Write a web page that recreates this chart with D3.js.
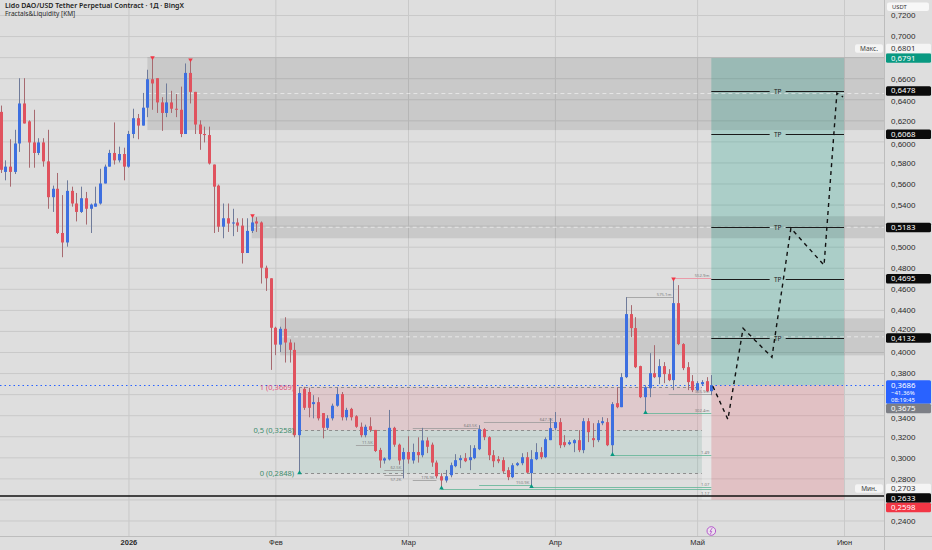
<!DOCTYPE html>
<html lang="ru">

<head>
  <meta charset="UTF-8">
  <title>LDO/USDT 1D</title>
  <style>
    body { margin: 0; background: #dedede; }
    svg { display: block; font-family: "Noto Sans", "DejaVu Sans", sans-serif; }
  </style>
</head>

<body>
  <script src="https://cdnjs.cloudflare.com/ajax/libs/d3/7.8.5/d3.min.js"></script>
  <script>
    // daily candles from 2025-12-05
    const firstDay = '2025-12-05'
    const opens = [
      0.628, 0.571, 0.576, 0.571, 0.598, 0.636, 0.619, 0.599, 0.589, 0.599,
      0.581, 0.547, 0.555, 0.513, 0.504, 0.553, 0.541, 0.533, 0.546, 0.536,
      0.538, 0.541, 0.560, 0.576, 0.589, 0.582, 0.588, 0.576, 0.607, 0.622,
      0.615, 0.632, 0.659, 0.660, 0.637, 0.627, 0.637, 0.631, 0.630, 0.607,
      0.665, 0.647, 0.616, 0.607, 0.606, 0.578, 0.558, 0.519, 0.527, 0.522,
      0.523, 0.520, 0.494, 0.515, 0.524, 0.523, 0.480, 0.470, 0.423, 0.407,
      0.422, 0.409, 0.402, 0.321, 0.365, 0.362, 0.3505, 0.3524, 0.342, 0.328,
      0.337, 0.349, 0.360, 0.338, 0.346, 0.339, 0.329, 0.321, 0.3295, 0.326,
      0.307, 0.297, 0.298, 0.328, 0.312, 0.298, 0.305, 0.297, 0.305, 0.302,
      0.316, 0.312, 0.295, 0.282, 0.278, 0.283, 0.2916, 0.2973, 0.2992, 0.2973,
      0.2992, 0.3077, 0.3267, 0.3191, 0.302, 0.2982, 0.2973, 0.2878, 0.2811, 0.2925,
      0.2944, 0.3001, 0.285, 0.2982, 0.3049, 0.3001, 0.3163, 0.3277, 0.3334, 0.3144,
      0.3125, 0.3134, 0.3163, 0.3068, 0.3343, 0.3182, 0.3163, 0.3324, 0.3334, 0.3115,
      0.3514, 0.3476, 0.3761, 0.436, 0.4227, 0.3866, 0.3571, 0.3656, 0.3799, 0.3761,
      0.3866, 0.379, 0.3733, 0.4464, 0.4075, 0.3856, 0.3723, 0.3638, 0.3694, 0.3723,
      0.3628
    ]
    const highs = [
      0.634, 0.582, 0.602, 0.611, 0.660, 0.660, 0.620, 0.630, 0.603, 0.603,
      0.611, 0.558, 0.570, 0.549, 0.563, 0.557, 0.551, 0.557, 0.552, 0.541,
      0.557, 0.574, 0.578, 0.592, 0.618, 0.595, 0.594, 0.610, 0.631, 0.626,
      0.646, 0.668, 0.6801, 0.660, 0.642, 0.655, 0.648, 0.645, 0.652, 0.674,
      0.678, 0.647, 0.620, 0.614, 0.614, 0.578, 0.559, 0.541, 0.541, 0.536,
      0.527, 0.527, 0.527, 0.530, 0.528, 0.524, 0.482, 0.470, 0.424, 0.424,
      0.433, 0.412, 0.409, 0.366, 0.3669, 0.366, 0.359, 0.357, 0.342, 0.340,
      0.351, 0.3666, 0.362, 0.347, 0.347, 0.340, 0.333, 0.331, 0.338, 0.326,
      0.309, 0.300, 0.345, 0.329, 0.313, 0.309, 0.320, 0.313, 0.319, 0.328,
      0.319, 0.314, 0.297, 0.285, 0.288, 0.295, 0.303, 0.302, 0.304, 0.3115,
      0.3115, 0.3305, 0.3277, 0.320, 0.3068, 0.3011, 0.3001, 0.2906, 0.2944, 0.2954,
      0.3039, 0.3049, 0.3068, 0.3134, 0.3096, 0.319, 0.3372, 0.343, 0.3372, 0.321,
      0.3163, 0.3172, 0.3258, 0.3372, 0.3372, 0.3324, 0.3353, 0.3381, 0.3372, 0.3524,
      0.3666, 0.3799, 0.4521, 0.4445, 0.4331, 0.387, 0.3685, 0.3989, 0.4065, 0.3932,
      0.3904, 0.3837, 0.470, 0.4635, 0.4084, 0.3904, 0.3781, 0.3723, 0.3733, 0.3761,
      0.3781
    ]
    const lows = [
      0.570, 0.563, 0.557, 0.569, 0.590, 0.617, 0.575, 0.575, 0.587, 0.576,
      0.536, 0.533, 0.512, 0.490, 0.500, 0.538, 0.524, 0.532, 0.521, 0.513,
      0.538, 0.540, 0.560, 0.576, 0.578, 0.580, 0.563, 0.575, 0.603, 0.602,
      0.615, 0.623, 0.630, 0.627, 0.610, 0.623, 0.627, 0.623, 0.604, 0.607,
      0.636, 0.607, 0.592, 0.599, 0.578, 0.513, 0.514, 0.508, 0.514, 0.510,
      0.514, 0.484, 0.494, 0.513, 0.514, 0.465, 0.458, 0.383, 0.397, 0.400,
      0.390, 0.390, 0.319, 0.2848, 0.345, 0.338, 0.337, 0.335, 0.318, 0.326,
      0.335, 0.348, 0.335, 0.335, 0.335, 0.328, 0.319, 0.319, 0.324, 0.305,
      0.290, 0.294, 0.297, 0.310, 0.293, 0.280, 0.294, 0.294, 0.295, 0.300,
      0.304, 0.291, 0.280, 0.2703, 0.276, 0.281, 0.2906, 0.2897, 0.2954, 0.2878,
      0.2982, 0.3068, 0.3163, 0.2973, 0.2906, 0.2944, 0.285, 0.2783, 0.2802, 0.2916,
      0.2925, 0.285, 0.2716, 0.2973, 0.2982, 0.2992, 0.3163, 0.3258, 0.3087, 0.3096,
      0.3115, 0.3049, 0.3049, 0.3039, 0.3144, 0.3096, 0.3144, 0.3305, 0.3106, 0.302,
      0.3466, 0.3476, 0.3752, 0.4141, 0.3847, 0.3562, 0.3419, 0.3571, 0.3752, 0.3695,
      0.3704, 0.3723, 0.3638, 0.4065, 0.3828, 0.3638, 0.3619, 0.3628, 0.3685, 0.3619,
      0.359
    ]
    const closes = [
      0.573, 0.576, 0.571, 0.598, 0.636, 0.617, 0.599, 0.589, 0.599, 0.581,
      0.547, 0.555, 0.513, 0.504, 0.553, 0.541, 0.533, 0.546, 0.536, 0.540,
      0.541, 0.560, 0.576, 0.589, 0.582, 0.588, 0.576, 0.607, 0.622, 0.615,
      0.632, 0.659, 0.655, 0.637, 0.627, 0.637, 0.631, 0.630, 0.607, 0.665,
      0.647, 0.616, 0.607, 0.606, 0.579, 0.557, 0.519, 0.527, 0.522, 0.523,
      0.520, 0.494, 0.515, 0.523, 0.522, 0.480, 0.470, 0.423, 0.407, 0.422,
      0.409, 0.402, 0.321, 0.361, 0.347, 0.347, 0.3524, 0.337, 0.328, 0.337,
      0.349, 0.360, 0.338, 0.345, 0.338, 0.329, 0.321, 0.329, 0.326, 0.306,
      0.297, 0.299, 0.328, 0.312, 0.297, 0.305, 0.298, 0.305, 0.302, 0.316,
      0.310, 0.295, 0.282, 0.278, 0.282, 0.2925, 0.2973, 0.2992, 0.2963, 0.3001,
      0.3087, 0.3267, 0.3191, 0.302, 0.2963, 0.2963, 0.2868, 0.2811, 0.2925, 0.2944,
      0.3001, 0.2855, 0.2982, 0.3049, 0.3001, 0.3172, 0.3277, 0.3334, 0.3115, 0.3115,
      0.3144, 0.3163, 0.3068, 0.3343, 0.3239, 0.3163, 0.3324, 0.3343, 0.3115, 0.3505,
      0.3476, 0.3761, 0.436, 0.4227, 0.3856, 0.3571, 0.3666, 0.3799, 0.3761, 0.3866,
      0.379, 0.3733, 0.4464, 0.4075, 0.3847, 0.3714, 0.3638, 0.3704, 0.3714, 0.3628,
      0.3686
    ]

    // axis ticks
    const priceTicks = d3.range(24, 73, 2).map(v => v / 100)
    const monthTicks = ['2026-01-01', '2026-02-01', '2026-03-01', '2026-04-01', '2026-05-01', '2026-06-01']
    const monthLabels = ['2026', 'Фев', 'Мар', 'Апр', 'Май', 'Июн']

    // levels
    const lastPrice = 0.3686
    const bidPrice = 0.3675
    const maxPrice = 0.6801
    const minPrice = 0.2703
    const targetPrice = 0.6791
    const stopPrice = 0.2598
    const supportPrice = 0.2633
    const tpLevels = [0.6478, 0.6068, 0.5183, 0.4695, 0.4132]
    const fibLevels = [1, 0.5, 0]
    const fibPrices = [0.3669, 0.3258, 0.2848]
    const fibRange = ['2026-02-06', '2026-05-02']
    const tradeRange = ['2026-05-04', '2026-06-01']

    // supply zones: start date, bottom, top
    const zoneStarts = ['2026-01-05', '2026-01-27', '2026-02-02']
    const zoneBottoms = [0.6107, 0.5080, 0.3968]
    const zoneTops = [0.6801, 0.5289, 0.4320]

    // fractals
    const fractalHighDays = ['2026-01-06', '2026-01-14', '2026-01-27', '2026-04-26']
    const fractalLowDays = ['2026-02-06', '2026-03-08', '2026-03-27', '2026-04-13', '2026-04-20']

    // liquidity levels
    const liqFrom = ['2026-04-26', '2026-04-16', '2026-04-25', '2026-04-20', '2026-04-13', '2026-03-27', '2026-03-08',
      '2026-03-02', '2026-03-17', '2026-02-18', '2026-02-24', '2026-02-24', '2026-03-02', '2026-03-16']
    const liqTo = ['2026-05-04', '2026-04-26', '2026-05-04', '2026-05-04', '2026-05-04', '2026-05-04', '2026-05-04',
      '2026-03-16', '2026-04-01', '2026-02-22', '2026-02-28', '2026-02-28', '2026-03-07', '2026-03-27']
    const liqPrices = [0.4700, 0.4521, 0.3597, 0.3419, 0.3020, 0.2716, 0.2703,
      0.3277, 0.3332, 0.3115, 0.2875, 0.2828, 0.2780, 0.2733]
    const liqKinds = ['high', 'mid', 'mid', 'low', 'low', 'low', 'low',
      'mid', 'mid', 'mid', 'mid', 'mid', 'mid', 'low']
    const liqLabels = ['552.9m', '575.1m', '365.9m', '302.4m', '1.49', '1.07', '1.17',
      '643.5K', '647.7K', '11.5K', '62.5K', '57.2K', '176.9K', '150.9K']

    // projected path
    const pathTimes = ['2026-05-04T08:00Z', '2026-05-07T12:00Z', '2026-05-10T17:00Z', '2026-05-16T19:00Z',
      '2026-05-20T19:00Z', '2026-05-27T19:00Z', '2026-05-30T12:00Z', '2026-05-31T19:00Z']
    const pathPrices = [0.3674, 0.3360, 0.4225, 0.3950, 0.5175, 0.4824, 0.6459, 0.6421]

    const W = 932, H = 550
    const plotW = 884, plotH = 536
    const upColor = '#3d6fe0', downColor = '#e0525e'
    const upWick = '#6f7b9a', downWick = '#a76a70'

    const parseDay = d3.utcParse('%Y-%m-%d')
    const fmt = d3.formatLocale({ decimal: ',', thousands: ' ', grouping: [3], currency: ['', ''] }).format('.4f')

    const start = parseDay(firstDay)
    const candles = opens.map((o, i) => ({
      date: d3.utcDay.offset(start, i), o: o, h: highs[i], l: lows[i], c: closes[i]
    }))
    const byDay = new Map(candles.map(d => [+d.date, d]))

    let svg = d3.select('body').append('svg')
      .attr('width', W)
      .attr('height', H)

    svg.append('rect').attr('width', W).attr('height', H).attr('fill', '#dedede')

    let x = d3.scaleUtc()
      .domain([parseDay('2025-12-05'), parseDay('2026-06-01')])
      .range([0.5, 844])
    let y = d3.scaleLinear()
      .domain([0.24, 0.72])
      .range([520.5, 15])

    svg.append('clipPath').attr('id', 'plotClip')
      .append('rect').attr('width', plotW).attr('height', plotH)
    let plot = svg.append('g').attr('clip-path', 'url(#plotClip)')

    // grid
    plot.append('g')
      .attr('class', 'grid-y')
      .call(d3.axisLeft(y).tickValues(priceTicks).tickSize(-plotW).tickFormat(''))
      .call(g => g.select('.domain').remove())
      .call(g => g.selectAll('line').attr('stroke', '#c9c9c9'))
    plot.append('g')
      .attr('class', 'grid-x')
      .attr('transform', `translate(0,${plotH})`)
      .call(d3.axisBottom(x).tickValues(monthTicks.map(parseDay)).tickSize(-plotH).tickFormat(''))
      .call(g => g.select('.domain').remove())
      .call(g => g.selectAll('line').attr('stroke', '#c9c9c9'))

    // fib zone
    const fx0 = x(parseDay(fibRange[0])), fx1 = x(parseDay(fibRange[1]))
    plot.append('rect')
      .attr('x', fx0).attr('width', fx1 - fx0)
      .attr('y', y(fibPrices[0])).attr('height', y(fibPrices[1]) - y(fibPrices[0]))
      .attr('fill', 'rgba(235,80,100,0.14)')
    plot.append('rect')
      .attr('x', fx0).attr('width', fx1 - fx0)
      .attr('y', y(fibPrices[1])).attr('height', y(fibPrices[2]) - y(fibPrices[1]))
      .attr('fill', 'rgba(8,140,110,0.09)')
    plot.selectAll('.fib-line')
      .data(fibPrices)
      .enter()
      .append('line')
      .attr('class', 'fib-line')
      .attr('x1', fx0).attr('x2', fx1)
      .attr('y1', d => Math.round(y(d)) + 0.5).attr('y2', d => Math.round(y(d)) + 0.5)
      .attr('stroke', '#8d8d8d')
      .attr('stroke-dasharray', '3,3')

    // trade boxes
    const tx0 = x(parseDay(tradeRange[0])), tx1 = x(parseDay(tradeRange[1]))
    plot.append('rect')
      .attr('x', tx0).attr('width', tx1 - tx0)
      .attr('y', y(targetPrice)).attr('height', y(lastPrice) - y(targetPrice))
      .attr('fill', 'rgba(8,153,129,0.24)')
    plot.append('rect')
      .attr('x', tx0).attr('width', tx1 - tx0)
      .attr('y', y(lastPrice)).attr('height', y(stopPrice) - y(lastPrice))
      .attr('fill', 'rgba(242,54,69,0.17)')
    plot.append('rect')
      .attr('x', fx1).attr('width', tx0 - fx1)
      .attr('y', y(lastPrice)).attr('height', y(stopPrice) - y(lastPrice))
      .attr('fill', 'rgba(255,255,255,0.25)')

    // supply zones
    zoneStarts.forEach((s, i) => {
      const zx = x(parseDay(s))
      plot.append('rect')
        .attr('x', zx).attr('width', plotW - zx)
        .attr('y', y(zoneTops[i])).attr('height', y(zoneBottoms[i]) - y(zoneTops[i]))
        .attr('fill', 'rgba(0,0,0,0.095)')
      const mid = y((zoneTops[i] + zoneBottoms[i]) / 2)
      plot.append('line')
        .attr('x1', zx).attr('x2', plotW)
        .attr('y1', mid).attr('y2', mid)
        .attr('stroke', 'rgba(255,255,255,0.55)')
        .attr('stroke-dasharray', '4,3')
    })

    // TP lines
    const tpMid = (tx0 + tx1) / 2
    tpLevels.forEach(p => {
      const ty = Math.round(y(p)) + 0.5
      plot.append('line').attr('x1', tx0).attr('x2', tpMid - 8).attr('y1', ty).attr('y2', ty)
        .attr('stroke', '#1a1a1a').attr('stroke-width', 1.2)
      plot.append('line').attr('x1', tpMid + 8).attr('x2', tx1).attr('y1', ty).attr('y2', ty)
        .attr('stroke', '#1a1a1a').attr('stroke-width', 1.2)
      plot.append('text').attr('x', tpMid).attr('y', ty + 2.3)
        .attr('text-anchor', 'middle').attr('font-size', 6.5).attr('fill', '#1a1a1a')
        .text('TP')
    })

    // liquidity levels; a label sits below its line when another level is just above
    const liqColor = { high: '#ee8a9c', mid: '#9a9a9a', low: '#5fb596' }
    liqPrices.forEach((p, i) => {
      const lx0 = x(parseDay(liqFrom[i])), lx1 = x(parseDay(liqTo[i]))
      const ly = Math.round(y(p)) + 0.5
      const crowded = liqPrices.some((q, j) => j < i && q > p && y(p) - y(q) < 5 && liqTo[j] === liqTo[i])
      plot.append('line').attr('x1', lx0).attr('x2', lx1).attr('y1', ly).attr('y2', ly)
        .attr('stroke', liqColor[liqKinds[i]]).attr('stroke-width', 0.8)
      plot.append('text').attr('x', lx1 - 2).attr('y', crowded ? ly + 5 : ly - 1.2)
        .attr('text-anchor', 'end').attr('font-size', 4.2).attr('fill', '#7d7d7d')
        .text(liqLabels[i])
    })

    // price lines
    plot.append('line')
      .attr('x1', 0).attr('x2', plotW)
      .attr('y1', y(supportPrice)).attr('y2', y(supportPrice))
      .attr('stroke', '#111').attr('stroke-width', 1.6)
    plot.append('line')
      .attr('x1', 0).attr('x2', plotW)
      .attr('y1', Math.round(y(lastPrice)) + 0.5).attr('y2', Math.round(y(lastPrice)) + 0.5)
      .attr('stroke', '#2962ff').attr('stroke-width', 1.1)
      .attr('stroke-dasharray', '1.5,3')

    // candles
    let gCandles = plot.append('g')
    gCandles.selectAll('.wick')
      .data(candles)
      .enter()
      .append('line')
      .attr('class', 'wick')
      .attr('x1', d => Math.round(x(d.date)) + 0.5)
      .attr('x2', d => Math.round(x(d.date)) + 0.5)
      .attr('y1', d => y(d.h))
      .attr('y2', d => y(d.l))
      .attr('stroke', d => d.c >= d.o ? upWick : downWick)
    gCandles.selectAll('.body')
      .data(candles)
      .enter()
      .append('rect')
      .attr('class', 'body')
      .attr('x', d => Math.round(x(d.date)) - 1)
      .attr('width', 3)
      .attr('y', d => y(Math.max(d.o, d.c)))
      .attr('height', d => Math.max(1, Math.abs(y(d.o) - y(d.c))))
      .attr('fill', d => d.c >= d.o ? upColor : downColor)

    // fractal markers
    const tri = d3.symbol(d3.symbolTriangle, 9)
    fractalHighDays.forEach(s => {
      const c = byDay.get(+parseDay(s))
      plot.append('path').attr('d', tri)
        .attr('transform', `translate(${Math.round(x(c.date)) + 0.5},${y(c.h) + 0.5}) rotate(180)`)
        .attr('fill', '#f23645')
    })
    fractalLowDays.forEach(s => {
      const c = byDay.get(+parseDay(s))
      plot.append('path').attr('d', tri)
        .attr('transform', `translate(${Math.round(x(c.date)) + 0.5},${y(c.l) - 0.5})`)
        .attr('fill', '#089981')
    })

    // projected path
    const pathPts = pathTimes.map((t, i) => ({ date: d3.isoParse(t), p: pathPrices[i] }))
    plot.append('path')
      .datum(pathPts)
      .attr('d', d3.line().x(d => x(d.date)).y(d => y(d.p)))
      .attr('fill', 'none')
      .attr('stroke', '#111')
      .attr('stroke-width', 1.4)
      .attr('stroke-dasharray', '4,4')

    // fib labels
    const fibColors = ['#e4507a', '#3d8c6c', '#3d8c6c']
    fibLevels.forEach((lv, i) => {
      plot.append('text')
        .attr('x', fx0 - 5).attr('y', y(fibPrices[i]) + 2.8)
        .attr('text-anchor', 'end').attr('font-size', 7.5)
        .attr('fill', fibColors[i])
        .text(`${fmtLevel(lv)} (${fmt(fibPrices[i])})`)
    })
    function fmtLevel(v) { return String(v).replace('.', ',') }

    // axes frame
    svg.append('line').attr('x1', plotW + 0.5).attr('x2', plotW + 0.5).attr('y1', 0).attr('y2', H)
      .attr('stroke', '#bdbdbd')
    svg.append('line').attr('x1', 0).attr('x2', W).attr('y1', plotH + 0.5).attr('y2', plotH + 0.5)
      .attr('stroke', '#bdbdbd')

    // price tags on the right scale (laid out first so covered ticks can be skipped)
    const tagH = 9.5, lineStep = 7
    const tags = [
      { p: targetPrice, lines: [fmt(targetPrice)], bg: '#089981', fg: '#fff', dir: 'up' },
      { p: maxPrice, lines: [fmt(maxPrice)], bg: '#f4f4f4', fg: '#333', dir: 'up', side: 'Макс.' },
      ...tpLevels.map(p => ({ p: p, lines: [fmt(p)], bg: '#0b0b0b', fg: '#fff', dir: 'down' })),
      { p: lastPrice, lines: [fmt(lastPrice), '\u221241,36%', '08:19:45'], bg: '#2962ff', fg: '#fff', dir: 'down' },
      { p: bidPrice, lines: [fmt(bidPrice)], bg: '#7d7f86', fg: '#fff', dir: 'down' },
      { p: minPrice, lines: [fmt(minPrice)], bg: '#f4f4f4', fg: '#333', dir: 'down', side: 'Мин.' },
      { p: supportPrice, lines: [fmt(supportPrice)], bg: '#0b0b0b', fg: '#fff', dir: 'down' },
      { p: stopPrice, lines: [fmt(stopPrice)], bg: '#f23645', fg: '#fff', dir: 'down' }
    ]
    const placed = []
    tags.forEach(t => {
      const h = tagH + (t.lines.length - 1) * lineStep
      let top = y(t.p) - tagH / 2
      let moved = true
      while (moved) {
        moved = false
        for (const b of placed) {
          if (top < b.top + b.h - 0.01 && top + h > b.top + 0.01) {
            top = t.dir === 'down' ? b.top + b.h : b.top - h
            moved = true
          }
        }
      }
      t.top = top
      t.h = h
      placed.push({ top: top, h: h })
    })

    // y axis: ticks hidden under a tag are skipped, ticks touching a tag are nudged clear
    const freeTicks = priceTicks.filter(p => {
      const ty = y(p)
      return !placed.some(b => ty > b.top - 1 && ty < b.top + b.h + 1)
    })
    svg.append('g')
      .attr('class', 'y-axis')
      .attr('transform', `translate(${plotW},0)`)
      .call(d3.axisRight(y).tickValues(freeTicks).tickFormat(fmt).tickSize(0).tickPadding(7))
      .call(g => g.select('.domain').remove())
      .call(g => g.selectAll('text').attr('font-size', 8).attr('fill', '#2a2a2a').attr('font-family', null)
        .attr('dy', p => {
          const ty = y(p), half = 4.6
          let shift = 0
          placed.forEach(b => {
            if (ty + half > b.top && ty < b.top) shift = b.top - (ty + half)
            if (ty - half < b.top + b.h && ty > b.top + b.h) shift = b.top + b.h - (ty - half)
          })
          return (shift + 2.8).toFixed(2)
        }))

    tags.forEach(t => {
      const g = svg.append('g')
      g.append('rect').attr('x', plotW + 2).attr('y', t.top).attr('width', W - plotW - 3).attr('height', t.h)
        .attr('rx', 1.5).attr('fill', t.bg)
      t.lines.forEach((s, k) => {
        g.append('text').attr('x', plotW + 7).attr('y', t.top + 7.2 + k * lineStep)
          .attr('font-size', k === 0 ? 7.8 : 6).attr('fill', t.fg).text(s)
      })
      if (t.side) {
        g.append('rect').attr('x', 855).attr('y', t.top + 0.5).attr('width', 28).attr('height', t.h - 1)
          .attr('rx', 2).attr('fill', '#f4f4f4')
        g.append('text').attr('x', 869).attr('y', t.top + 7).attr('text-anchor', 'middle')
          .attr('font-size', 6.5).attr('fill', '#444').text(t.side)
      }
    })

    // x axis
    svg.append('g')
      .attr('class', 'x-axis')
      .attr('transform', `translate(0,${plotH})`)
      .call(d3.axisBottom(x).tickValues(monthTicks.map(parseDay)).tickFormat((d, i) => monthLabels[i]).tickSize(0).tickPadding(4))
      .call(g => g.select('.domain').remove())
      .call(g => g.selectAll('text')
        .attr('font-size', 7.5).attr('fill', '#2a2a2a').attr('font-family', null)
        .attr('font-weight', (d, i) => i === 0 ? 700 : 400))

    // event marker
    const evX = x(parseDay('2026-05-04'))
    svg.append('circle').attr('cx', evX).attr('cy', 531).attr('r', 4.3)
      .attr('fill', '#ece2ee').attr('stroke', '#b04cc8').attr('stroke-width', 0.9)
    svg.append('path')
      .attr('d', `M${evX + 1},${527.8} L${evX - 1.3},${531.4} L${evX + 0.4},${531.4} L${evX - 1},${534.3}`)
      .attr('fill', 'none').attr('stroke', '#b04cc8').attr('stroke-width', 0.8)

    // currency box
    svg.append('rect').attr('x', 887).attr('y', 2.5).attr('width', 42).attr('height', 8.5)
      .attr('rx', 2).attr('fill', '#f7f7f7')
    svg.append('text').attr('x', 892).attr('y', 9).attr('font-size', 5.8).attr('fill', '#333').text('USDT')

    // title
    svg.append('text').attr('x', 5).attr('y', 7.8)
      .attr('font-size', 7).attr('font-weight', 600).attr('fill', '#1d1d1d')
      .text('Lido DAO/USD Tether Perpetual Contract · 1Д · BingX')
    svg.append('text').attr('x', 5).attr('y', 16)
      .attr('font-size', 6.5).attr('fill', '#2a2a2a')
      .text('Fractals&Liquidity [KM]')
  </script>
</body>

</html>
